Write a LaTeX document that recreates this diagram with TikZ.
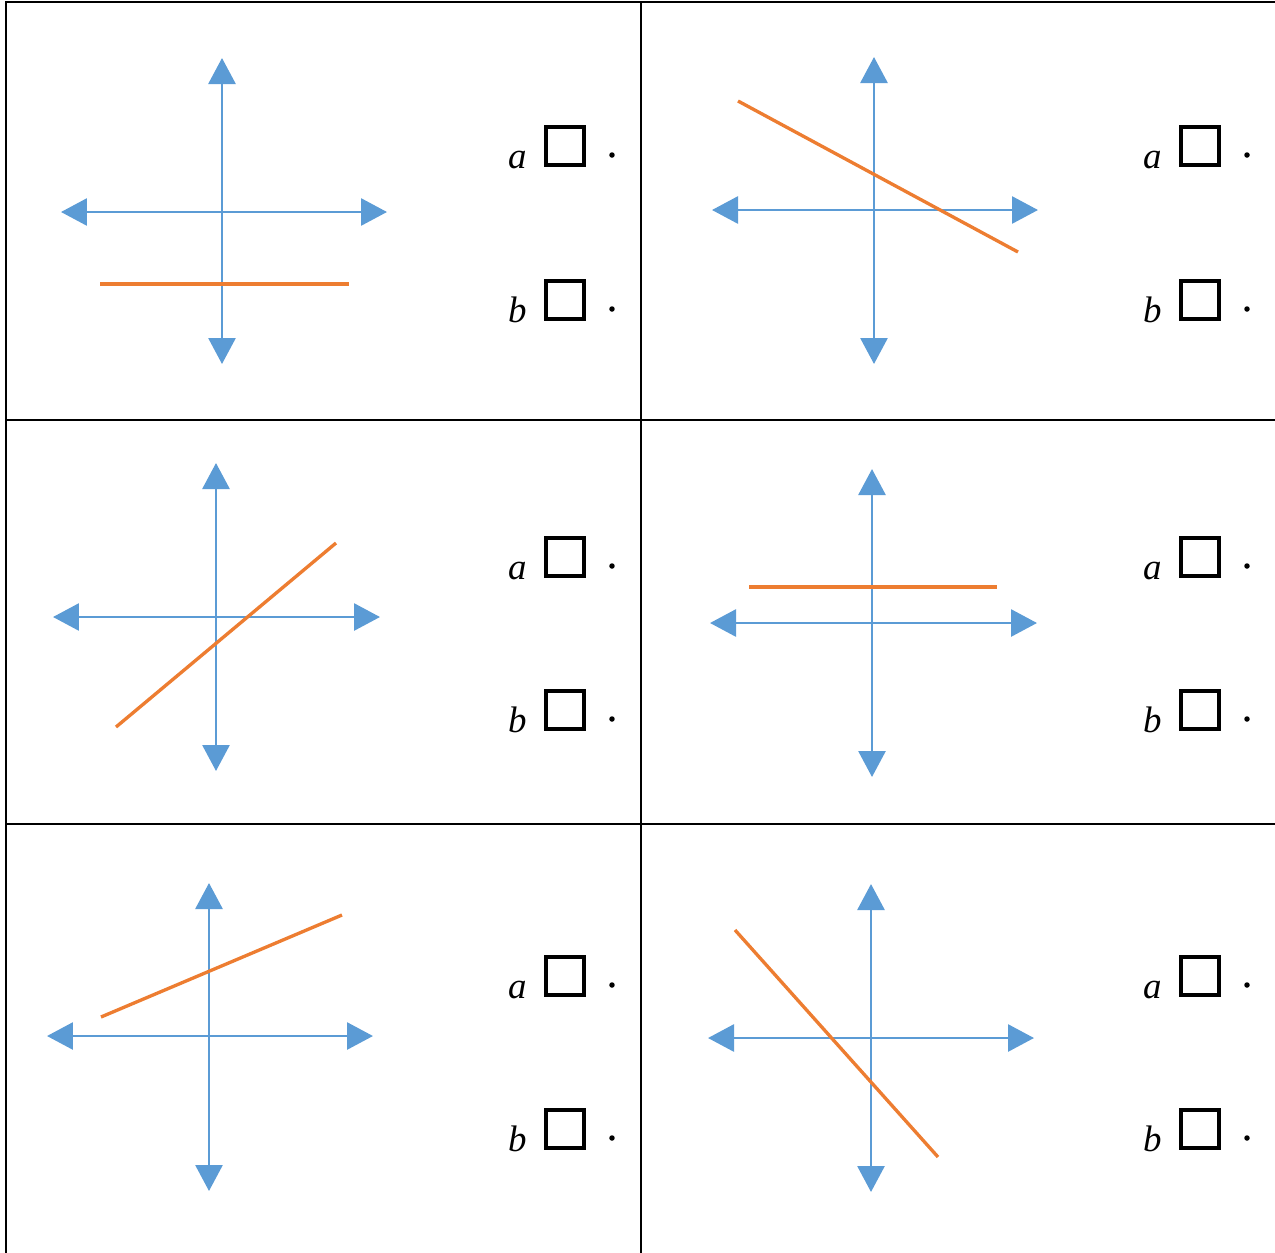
\documentclass[tikz,border=0pt]{standalone}
\usepackage{fontspec}
\setmainfont{Liberation Serif}
\usetikzlibrary{arrows.meta, positioning}
\definecolor{axisblue}{HTML}{5B9BD5}
\definecolor{lineorange}{HTML}{ED7D31}

\begin{document}
\begin{tikzpicture}[x=0.02cm, y=-0.02cm,
  axis/.style={axisblue, line width=1.6pt,
               {Triangle[length=0.52cm, width=0.54cm]}-{Triangle[length=0.52cm, width=0.54cm]}},
  graphline/.style={lineorange, line width=1.9pt},
  grid/.style={black, line width=1.1pt},
  tickbox/.style={rectangle, draw, line width=2pt,
                  minimum size=0.76cm, inner sep=0pt},
  letter/.style={font=\fontsize{21}{25}\selectfont\itshape, inner sep=0pt}
]
  \useasboundingbox (0,0) rectangle (1275,1252);

  % table lines
  \draw[grid] (6,1253) -- (6,2) -- (1278,2);
  \draw[grid] (641,2) -- (641,1253);
  \draw[grid] (6,420) -- (1278,420);
  \draw[grid] (6,824) -- (1278,824);

  % one cell: axes, the line, and the two boxes
  \foreach \i/\cx/\vx/\vt/\vb/\hy/\hl/\hr/\ox/\oy/\px/\py/\la/\lb in {
      1/6/222/58/364/212/61/387/100/284/349/284/146/300,
      2/641/874/57/364/210/712/1038/738/101/1018/252/146/300,
      3/6/216/463/771/617/53/380/116/727/336/543/557/710,
      4/641/872/469/777/623/710/1037/749/587/997/587/557/710,
      5/6/209/883/1191/1036/47/373/101/1017/342/915/976/1129,
      6/641/871/884/1192/1038/708/1034/735/930/938/1157/976/1129} {
    \coordinate (top\i) at (\vx,\vt);
    \coordinate (bot\i) at (\vx,\vb);
    \coordinate (left\i) at (\hl,\hy);
    \coordinate (right\i) at (\hr,\hy);
    \coordinate (start\i) at (\ox,\oy);
    \coordinate (end\i) at (\px,\py);
    \draw[axis] (bot\i) -- (top\i);
    \draw[axis] (left\i) -- (right\i);
    \draw[graphline] (start\i) -- (end\i);

    \node[tickbox] (boxa\i) at (\cx+559,\la) {};
    \node[tickbox] (boxb\i) at (\cx+559,\lb) {};
    \node[letter, anchor=base] (a\i) at ([xshift=-0.54cm, yshift=-0.03cm]boxa\i.south west) {a};
    \node[letter, anchor=base] (b\i) at ([xshift=-0.54cm, yshift=-0.03cm]boxb\i.south west) {b};
    \coordinate (dota\i) at ([xshift=0.94cm, yshift=-0.18cm]boxa\i.center);
    \coordinate (dotb\i) at ([xshift=0.94cm, yshift=-0.18cm]boxb\i.center);
    \fill (dota\i) circle (0.055cm);
    \fill (dotb\i) circle (0.055cm);
  }
\end{tikzpicture}
\end{document}
